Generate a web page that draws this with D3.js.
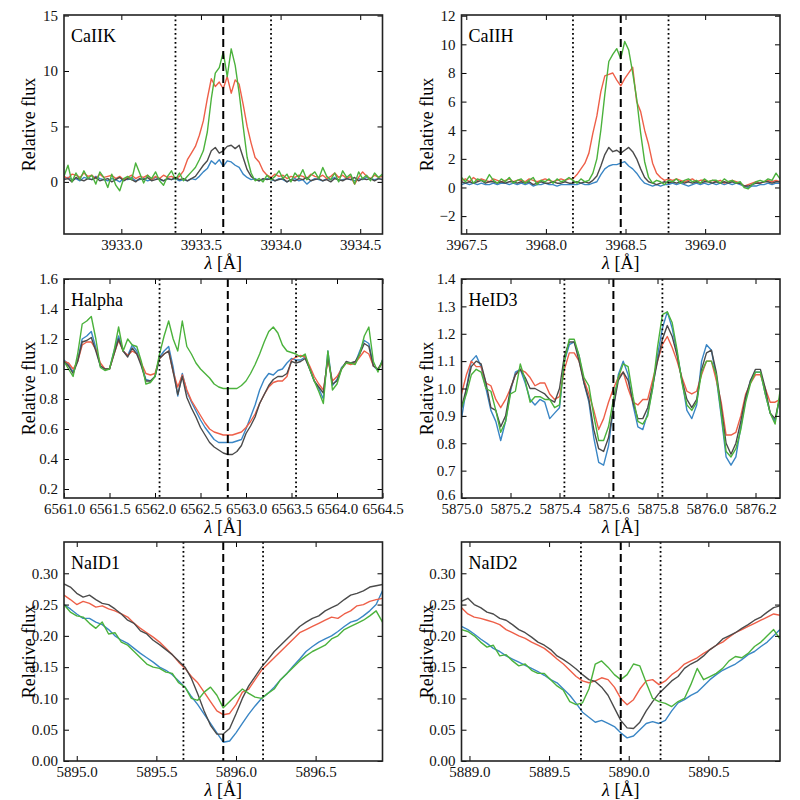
<!DOCTYPE html>
<html>
<head>
<meta charset="utf-8">
<script src="https://cdn.jsdelivr.net/npm/d3@7"></script>
<style>
  body { margin: 0; background: #fff; }
</style>
</head>
<body>
<svg id="chart"></svg>
<script>
// ---- CaII K ----
const caiikBlue = [0.3,0.4,0.2,0.3,0.1,0.4,0.3,0.2,0.5,0.3,0.2,0.1,0.3,0.2,0.0,0.3,0.2,0.4,0.1,0.2,0.3,0.1,0.2,0.4,0.2,0.1,0.3,0.2,
  0.3,0.1,0.2,0.1,0.3,0.2,0.5,0.9,1.2,1.9,1.6,2.0,1.4,1.9,1.8,1.5,1.3,0.7,0.4,0.2,0.3,0.1,0.2,0.3,0.2,
  0.1,0.3,0.2,0.0,0.2,0.3,0.1,0.2,-0.2,0.1,0.3,0.2,0.1,0.3,0.2,0.4,0.1,0.2,0.3,0.2,0.1,0.3,0.2,0.4,0.3,0.2,0.3,0.2];
const caiikRed = [0.5,0.3,0.7,0.6,0.4,0.8,0.5,0.6,0.3,0.7,0.4,0.5,0.6,0.3,0.5,0.2,0.4,0.6,0.3,0.5,0.4,0.6,0.2,0.5,0.3,0.6,0.4,0.5,
  0.3,0.5,1.0,2.0,2.6,3.2,4.2,5.5,7.5,9.3,8.6,9.0,8.4,9.5,8.0,9.2,8.8,7.0,5.0,3.5,2.2,1.8,1.0,0.6,0.4,
  0.7,0.5,0.6,0.3,0.5,0.4,0.6,0.5,0.3,0.7,0.5,0.4,0.6,0.3,0.5,0.8,0.4,0.6,0.3,0.5,-0.2,0.4,0.9,0.5,0.3,0.6,0.4,0.5];
const caiikGray = [0.2,0.3,0.0,0.4,0.2,0.1,0.3,0.2,0.4,0.1,0.2,0.3,0.0,0.2,0.4,0.1,0.3,0.2,0.0,0.3,0.2,0.4,0.1,0.2,0.3,0.1,0.3,0.2,
  0.4,0.2,0.3,0.1,0.3,0.5,1.0,1.5,1.9,2.8,3.1,2.6,2.8,3.2,3.3,3.0,3.3,2.2,1.1,0.5,0.2,0.1,0.3,0.2,0.3,
  0.1,0.2,0.3,0.0,0.2,0.1,0.3,0.2,0.4,0.1,0.2,0.3,0.1,0.2,0.0,0.3,0.2,0.1,0.3,0.2,0.4,0.1,0.3,0.2,0.3,0.1,0.3,0.2];
const caiikGreen = [0.5,1.5,0.0,0.8,0.2,1.0,0.3,0.6,-0.2,0.9,0.4,-0.5,0.7,-0.3,-0.8,0.3,0.5,0.2,1.7,0.8,-0.1,0.6,0.3,0.9,0.1,-0.3,0.5,1.0,
  0.2,0.8,0.1,0.5,0.9,1.3,2.0,2.8,4.5,7.5,9.8,10.3,11.7,9.5,12.0,10.5,8.0,5.0,2.2,0.8,0.1,0.3,0.0,0.6,0.2,
  0.5,1.0,0.3,0.7,0.0,0.8,0.4,1.1,0.2,0.6,0.9,0.3,1.3,0.5,0.2,0.8,0.0,1.0,0.4,0.7,-0.2,0.9,0.3,0.6,0.1,0.8,0.4,0.7];
const caiikXTicks = [3933.0, 3933.5, 3934.0, 3934.5];
const caiikYTicks = [0, 5, 10, 15];

// ---- CaII H ----
const caiihBlue = [0.2,0.3,0.2,0.3,0.2,0.3,0.2,0.2,0.3,0.2,0.3,0.3,0.2,0.3,0.2,0.3,0.2,0.3,0.1,0.2,0.2,0.3,0.2,0.2,0.1,0.2,0.2,0.2,
  0.2,0.2,0.3,0.2,0.2,0.3,0.4,0.9,1.3,1.5,1.6,1.6,1.7,1.8,1.5,1.3,1.0,0.6,0.3,0.2,0.1,0.2,0.1,0.2,0.2,
  0.3,0.2,0.3,0.2,0.1,0.2,0.3,0.2,0.3,0.2,0.3,0.2,0.3,0.2,0.3,0.2,0.3,0.2,0.1,0.0,0.1,0.1,0.2,0.2,0.3,0.2,0.3,0.3];
const caiihRed = [0.5,0.6,0.4,0.7,0.5,0.6,0.5,0.4,0.6,0.5,0.4,0.5,0.6,0.4,0.5,0.5,0.4,0.6,0.5,0.4,0.5,0.6,0.5,0.4,0.5,0.6,0.5,0.6,
  0.6,0.9,1.3,1.7,2.4,3.8,5.0,6.7,7.8,7.9,8.0,7.5,7.1,7.6,8.0,8.4,6.0,5.3,4.0,3.0,1.7,1.0,0.7,0.5,0.6,
  0.5,0.6,0.5,0.4,0.5,0.6,0.4,0.5,0.5,0.4,0.5,0.4,0.5,0.3,0.4,0.5,0.4,0.3,0.1,0.2,0.3,0.4,0.3,0.4,0.5,0.4,0.5,0.4];
const caiihGray = [0.4,0.3,0.4,0.3,0.4,0.5,0.3,0.4,0.4,0.3,0.4,0.3,0.4,0.4,0.3,0.4,0.3,0.4,0.2,0.3,0.4,0.3,0.3,0.4,0.3,0.3,0.4,0.3,
  0.3,0.4,0.3,0.4,0.3,0.5,0.8,1.5,2.3,2.8,2.5,2.6,2.4,2.6,2.8,2.5,2.0,1.3,0.7,0.4,0.3,0.2,0.3,0.4,0.3,
  0.4,0.3,0.4,0.3,0.4,0.3,0.4,0.3,0.4,0.4,0.3,0.4,0.3,0.4,0.3,0.4,0.3,0.3,0.1,0.1,0.2,0.3,0.3,0.4,0.4,0.3,0.4,0.4];
const caiihGreen = [0.7,0.4,0.8,0.3,0.6,0.5,0.4,0.9,0.5,0.3,0.6,0.4,0.7,0.3,0.5,0.6,0.3,0.5,0.7,0.2,0.5,0.4,0.6,0.3,0.6,0.4,0.5,0.7,
  0.5,0.3,0.6,0.4,0.5,1.0,2.0,4.0,6.5,8.8,9.3,9.7,9.0,10.2,9.6,8.0,6.2,3.8,1.8,0.7,0.3,0.5,0.4,0.2,0.5,
  0.4,0.6,0.3,0.5,0.6,0.4,0.5,0.3,0.6,0.4,0.5,0.5,0.3,0.6,0.4,0.5,0.3,0.4,0.0,-0.1,0.2,0.4,0.5,0.4,0.6,0.5,1.0,0.6];
const caiihXTicks = [3967.5, 3968.0, 3968.5, 3969.0];
const caiihYTicks = [-2, 0, 2, 4, 6, 8, 10, 12];

// ---- H alpha ----
const halphaBlue = [1.06,1.03,0.98,1.06,1.20,1.22,1.25,1.14,1.02,1.00,
  1.00,1.12,1.22,1.12,1.09,1.16,1.12,1.03,0.93,0.92,
  0.95,1.08,1.12,1.15,1.01,0.82,0.97,0.85,0.78,0.72,
  0.66,0.61,0.57,0.53,0.51,0.51,0.51,0.51,0.52,0.53,
  0.60,0.68,0.76,0.86,0.93,0.97,0.96,0.99,1.00,1.04,
  1.07,1.06,1.06,1.08,1.00,0.92,0.87,0.80,1.12,0.89,
  0.93,1.01,1.04,1.04,1.04,1.12,1.19,1.17,1.02,0.99,1.06];
const halphaRed = [1.05,1.04,1.00,1.05,1.16,1.18,1.18,1.13,1.04,1.00,
  1.00,1.10,1.19,1.12,1.09,1.12,1.10,1.04,0.97,0.96,
  0.97,1.07,1.10,1.12,0.98,0.88,0.96,0.86,0.79,0.74,
  0.69,0.64,0.60,0.58,0.57,0.56,0.56,0.56,0.57,0.58,
  0.61,0.65,0.70,0.77,0.83,0.88,0.91,0.92,0.92,0.95,
  1.06,1.08,1.09,1.08,1.02,0.95,0.90,0.86,1.06,0.92,
  0.95,1.00,1.04,1.03,1.04,1.08,1.12,1.10,1.02,1.00,1.04];
const halphaGray = [1.05,1.02,0.97,1.05,1.18,1.19,1.21,1.12,1.02,1.00,
  1.00,1.10,1.20,1.12,1.08,1.14,1.10,1.02,0.92,0.92,
  0.95,1.07,1.10,1.12,0.98,0.83,0.95,0.81,0.74,0.68,
  0.61,0.56,0.51,0.48,0.46,0.44,0.43,0.43,0.45,0.49,
  0.57,0.62,0.68,0.77,0.83,0.89,0.93,0.95,0.95,0.97,
  1.05,1.04,1.05,1.07,1.00,0.92,0.88,0.84,1.08,0.90,
  0.92,1.00,1.05,1.04,1.05,1.10,1.17,1.15,1.02,1.00,1.05];
const halphaGreen = [1.05,1.00,0.95,1.10,1.30,1.32,1.35,1.20,1.01,0.99,
  1.00,1.12,1.28,1.12,1.20,1.16,1.15,1.05,0.90,0.91,
  0.95,1.10,1.22,1.32,1.20,1.12,1.32,1.15,1.10,1.04,
  1.00,0.97,0.94,0.90,0.88,0.87,0.87,0.87,0.87,0.89,
  0.92,0.97,1.03,1.10,1.18,1.25,1.28,1.24,1.16,1.12,
  1.11,1.10,1.08,1.10,1.00,0.92,0.85,0.77,1.12,0.86,
  0.90,1.00,1.04,1.04,1.03,1.10,1.22,1.28,1.05,0.98,1.06];
const halphaXTicks = [6561.0, 6561.5, 6562.0, 6562.5, 6563.0, 6563.5, 6564.0, 6564.5];
const halphaYTicks = [0.2, 0.4, 0.6, 0.8, 1.0, 1.2, 1.4, 1.6];

// ---- He I D3 ----
const heid3Blue = [0.89,1.00,1.10,1.12,1.08,1.00,0.92,0.88,0.81,0.88,
  0.99,1.06,1.07,1.02,0.96,0.94,0.96,0.95,0.89,0.91,
  0.93,1.10,1.16,1.17,1.12,1.02,0.95,0.82,0.73,0.72,
  0.79,0.93,1.05,1.10,1.05,0.94,0.86,0.85,0.91,1.00,
  1.12,1.22,1.28,1.22,1.13,1.03,0.92,0.89,0.94,1.10,
  1.16,1.14,1.04,0.90,0.75,0.72,0.75,0.86,0.96,1.03,
  1.06,1.06,0.98,0.91,0.88,0.97];
const heid3Red = [0.98,1.05,1.10,1.08,1.08,1.02,1.01,0.96,0.93,0.96,
  1.00,1.05,1.07,1.06,1.04,1.01,1.02,1.02,0.98,0.96,
  0.97,1.07,1.13,1.13,1.10,1.03,0.98,0.92,0.85,0.89,
  0.95,1.00,1.04,1.06,1.00,0.95,0.94,0.96,0.96,1.03,
  1.10,1.16,1.19,1.15,1.10,1.04,0.99,0.98,0.99,1.05,
  1.10,1.10,1.03,0.95,0.83,0.83,0.84,0.90,0.98,1.02,
  1.05,1.05,1.00,0.95,0.95,0.96];
const heid3Gray = [0.93,1.00,1.08,1.10,1.09,1.02,0.93,0.92,0.86,0.90,
  1.00,1.05,1.07,1.04,1.00,1.00,0.99,0.98,0.96,0.95,
  1.00,1.12,1.17,1.17,1.10,1.02,0.96,0.85,0.78,0.77,
  0.82,0.93,1.03,1.06,1.03,0.95,0.89,0.89,0.93,1.01,
  1.10,1.18,1.23,1.19,1.12,1.03,0.96,0.93,0.96,1.07,
  1.13,1.14,1.06,0.93,0.80,0.76,0.80,0.88,0.97,1.03,
  1.07,1.07,1.00,0.91,0.89,0.97];
const heid3Green = [0.93,0.98,1.05,1.07,1.06,1.00,0.99,0.92,0.84,0.88,
  0.98,0.99,1.09,1.03,0.95,0.97,0.97,0.96,0.96,0.93,
  0.94,1.10,1.18,1.18,1.12,1.04,1.01,0.90,0.81,0.81,
  0.86,0.96,1.04,1.09,1.08,0.97,0.88,0.87,0.90,1.00,
  1.15,1.27,1.28,1.24,1.14,1.02,0.94,0.92,0.95,1.06,
  1.10,1.10,1.05,0.91,0.77,0.75,0.78,0.85,0.95,1.02,
  1.06,1.06,0.98,0.91,0.87,0.99];
const heid3XTicks = [5875.0, 5875.2, 5875.4, 5875.6, 5875.8, 5876.0, 5876.2];
const heid3YTicks = [0.6, 0.7, 0.8, 0.9, 1.0, 1.1, 1.2, 1.3, 1.4];

// ---- Na I D1 ----
const naid1Blue = [0.25,0.243,0.235,0.228,0.228,0.222,0.218,0.21,0.2,0.193,
  0.188,0.18,0.172,0.165,0.158,0.15,0.145,0.138,0.128,0.118,
  0.103,0.09,0.075,0.06,0.045,0.03,0.032,0.045,0.06,0.075,
  0.088,0.1,0.108,0.118,0.13,0.14,0.152,0.163,0.175,0.183,
  0.19,0.195,0.2,0.207,0.215,0.222,0.225,0.232,0.24,0.25,0.272];
const naid1Red = [0.265,0.258,0.25,0.255,0.252,0.246,0.248,0.243,0.24,0.235,
  0.23,0.22,0.212,0.205,0.198,0.19,0.18,0.17,0.158,0.148,
  0.135,0.125,0.11,0.095,0.08,0.074,0.076,0.09,0.11,0.115,
  0.13,0.145,0.155,0.165,0.175,0.185,0.195,0.205,0.21,0.215,
  0.22,0.225,0.23,0.228,0.235,0.24,0.248,0.25,0.255,0.258,0.26];
const naid1Gray = [0.283,0.278,0.268,0.262,0.265,0.258,0.252,0.25,0.243,0.235,
  0.225,0.22,0.208,0.203,0.193,0.186,0.178,0.17,0.16,0.15,
  0.132,0.107,0.08,0.057,0.043,0.043,0.052,0.075,0.1,0.12,
  0.135,0.15,0.162,0.175,0.185,0.195,0.205,0.215,0.222,0.228,
  0.232,0.24,0.245,0.25,0.258,0.265,0.268,0.272,0.278,0.28,0.282];
const naid1Green = [0.25,0.238,0.232,0.23,0.22,0.212,0.222,0.203,0.205,0.19,
  0.185,0.175,0.165,0.155,0.15,0.148,0.142,0.14,0.125,0.118,
  0.1,0.097,0.11,0.118,0.105,0.085,0.095,0.105,0.115,0.108,
  0.102,0.1,0.108,0.115,0.13,0.14,0.15,0.16,0.168,0.175,
  0.18,0.185,0.195,0.2,0.21,0.215,0.22,0.225,0.232,0.24,0.222];
const naid1XTicks = [5895.0, 5895.5, 5896.0, 5896.5];

// ---- Na I D2 ----
const naid2Blue = [0.215,0.21,0.203,0.195,0.188,0.18,0.175,0.168,0.163,0.158,
  0.153,0.148,0.143,0.137,0.13,0.125,0.115,0.105,0.092,0.078,
  0.07,0.062,0.065,0.06,0.055,0.045,0.037,0.04,0.05,0.06,
  0.063,0.06,0.065,0.08,0.093,0.098,0.105,0.11,0.12,0.13,
  0.138,0.145,0.15,0.155,0.162,0.17,0.175,0.183,0.19,0.2,0.21];
const naid2Red = [0.245,0.235,0.23,0.228,0.225,0.222,0.218,0.21,0.205,0.2,
  0.196,0.19,0.185,0.18,0.172,0.163,0.155,0.145,0.135,0.128,
  0.125,0.128,0.133,0.13,0.118,0.1,0.09,0.098,0.115,0.128,
  0.13,0.122,0.128,0.138,0.145,0.155,0.16,0.165,0.172,0.178,
  0.185,0.19,0.198,0.205,0.21,0.215,0.22,0.225,0.23,0.235,0.233];
const naid2Gray = [0.255,0.26,0.25,0.245,0.238,0.235,0.228,0.225,0.218,0.21,
  0.205,0.198,0.19,0.185,0.178,0.168,0.162,0.155,0.147,0.138,
  0.13,0.127,0.118,0.105,0.085,0.065,0.053,0.052,0.062,0.08,
  0.095,0.108,0.118,0.128,0.135,0.148,0.155,0.16,0.168,0.178,
  0.185,0.195,0.2,0.205,0.212,0.218,0.225,0.23,0.238,0.245,0.248];
const naid2Green = [0.21,0.207,0.2,0.19,0.182,0.185,0.168,0.17,0.16,0.152,
  0.155,0.145,0.14,0.14,0.13,0.12,0.113,0.095,0.09,0.093,
  0.115,0.155,0.16,0.15,0.138,0.13,0.138,0.155,0.152,0.125,
  0.1,0.095,0.092,0.087,0.095,0.1,0.122,0.148,0.13,0.135,
  0.14,0.148,0.16,0.167,0.165,0.172,0.183,0.19,0.2,0.21,0.195];
const naid2XTicks = [5889.0, 5889.5, 5890.0, 5890.5];
const naYTicks = [0.00, 0.05, 0.10, 0.15, 0.20, 0.25, 0.30];

const colors = { blue: '#3a86c5', red: '#ee5f48', gray: '#4b4b4b', green: '#4bb23c' };
const serif = '"Liberation Serif", "DejaVu Serif", serif';

const panels = [
  { name: 'CaIIK', col: 0, row: 0, start: 3932.64, step: 0.025, xDomain: [3932.64, 3934.64], yDomain: [-4.7, 15.05],
    xTicks: caiikXTicks, yTicks: caiikYTicks, yFormat: 'd', centre: 3933.64, halfWidth: 0.3,
    blue: caiikBlue, red: caiikRed, gray: caiikGray, green: caiikGreen },
  { name: 'CaIIH', col: 1, row: 0, start: 3967.47, step: 0.025, xDomain: [3967.47, 3969.47], yDomain: [-3.25, 12.05],
    xTicks: caiihXTicks, yTicks: caiihYTicks, yFormat: 'd', centre: 3968.47, halfWidth: 0.3,
    blue: caiihBlue, red: caiihRed, gray: caiihGray, green: caiihGreen },
  { name: 'Halpha', col: 0, row: 1, start: 6561.0, step: 0.05, xDomain: [6561.0, 6564.5], yDomain: [0.14, 1.6],
    xTicks: halphaXTicks, yTicks: halphaYTicks, yFormat: '.1f', centre: 6562.8, halfWidth: 0.75,
    blue: halphaBlue, red: halphaRed, gray: halphaGray, green: halphaGreen },
  { name: 'HeID3', col: 1, row: 1, start: 5875.0, step: 0.02, xDomain: [5875.0, 5876.3], yDomain: [0.6, 1.4],
    xTicks: heid3XTicks, yTicks: heid3YTicks, yFormat: '.1f', centre: 5875.62, halfWidth: 0.2,
    blue: heid3Blue, red: heid3Red, gray: heid3Gray, green: heid3Green },
  { name: 'NaID1', col: 0, row: 2, start: 5894.92, step: 0.04, xDomain: [5894.92, 5896.92], yDomain: [0, 0.35],
    xTicks: naid1XTicks, yTicks: naYTicks, yFormat: '.2f', centre: 5895.92, halfWidth: 0.25,
    blue: naid1Blue, red: naid1Red, gray: naid1Gray, green: naid1Green },
  { name: 'NaID2', col: 1, row: 2, start: 5888.95, step: 0.04, xDomain: [5888.95, 5890.95], yDomain: [0, 0.35],
    xTicks: naid2XTicks, yTicks: naYTicks, yFormat: '.2f', centre: 5889.95, halfWidth: 0.25,
    blue: naid2Blue, red: naid2Red, gray: naid2Gray, green: naid2Green },
];

const layout = {
  width: 800,
  height: 800,
  colLeft: [64, 461.5],
  rowTop: [15, 279, 542],
  panelWidth: 318.5,
  panelHeight: 219,
};

const svg = d3.select('#chart')
  .attr('width', layout.width)
  .attr('height', layout.height)
  .attr('viewBox', [0, 0, layout.width, layout.height])
  .style('font-family', serif);

svg.append('rect').attr('width', layout.width).attr('height', layout.height).attr('fill', '#fff');

function drawPanel(p) {
  const w = layout.panelWidth;
  const h = layout.panelHeight;
  const g = svg.append('g')
    .attr('transform', `translate(${layout.colLeft[p.col]} ${layout.rowTop[p.row]})`);

  const xScale = d3.scaleLinear().domain(p.xDomain).range([0, w]);
  const yScale = d3.scaleLinear().domain(p.yDomain).range([h, 0]);

  const clipId = `clip-${p.name}`;
  g.append('clipPath').attr('id', clipId)
    .append('rect').attr('width', w).attr('height', h);

  const lambda = d3.range(p.blue.length).map(i => p.start + i * p.step);
  const line = d3.line()
    .x((d, i) => xScale(lambda[i]))
    .y(d => yScale(d));

  const plot = g.append('g').attr('clip-path', `url(#${clipId})`);

  ['blue', 'red', 'gray', 'green'].forEach(key => {
    plot.append('path')
      .attr('d', line(p[key]))
      .attr('fill', 'none')
      .attr('stroke', colors[key])
      .attr('stroke-width', 1.4)
      .attr('stroke-linejoin', 'round');
  });

  // line centre and integration window
  plot.append('line')
    .attr('x1', xScale(p.centre)).attr('x2', xScale(p.centre))
    .attr('y1', 0).attr('y2', h)
    .attr('stroke', '#000')
    .attr('stroke-width', 2)
    .attr('stroke-dasharray', '8 4');

  [p.centre - p.halfWidth, p.centre + p.halfWidth].forEach(v => {
    plot.append('line')
      .attr('x1', xScale(v)).attr('x2', xScale(v))
      .attr('y1', 0).attr('y2', h)
      .attr('stroke', '#000')
      .attr('stroke-width', 1.8)
      .attr('stroke-dasharray', '1.8 2.7');
  });

  // axes, ticks pointing inwards on all four sides
  const fmtX = d3.format('.1f');
  const fmtY = d3.format(p.yFormat);

  const bottom = g.append('g')
    .attr('transform', `translate(0 ${h})`)
    .call(d3.axisBottom(xScale).tickValues(p.xTicks).tickSize(-5).tickPadding(5.5).tickFormat(fmtX));
  g.append('g')
    .call(d3.axisTop(xScale).tickValues(p.xTicks).tickSize(-5).tickFormat(''));
  const left = g.append('g')
    .call(d3.axisLeft(yScale).tickValues(p.yTicks).tickSize(-5).tickPadding(6).tickFormat(fmtY));
  g.append('g')
    .attr('transform', `translate(${w} 0)`)
    .call(d3.axisRight(yScale).tickValues(p.yTicks).tickSize(-5).tickFormat(''));

  g.selectAll('.domain').remove();
  g.selectAll('.tick line').attr('stroke', '#000').attr('stroke-width', 1);
  g.selectAll('g').attr('font-family', serif).attr('font-size', 15);
  bottom.selectAll('text').attr('fill', '#111');
  left.selectAll('text').attr('fill', '#111');

  // lowest y label sits in the corner; lift it a little when an x label shares that corner
  if (xScale(p.xTicks[0]) < 2) {
    left.selectAll('.tick text')
      .filter(d => d === p.yDomain[0])
      .attr('dy', '0.1em');
  }

  g.append('rect')
    .attr('width', w)
    .attr('height', h)
    .attr('fill', 'none')
    .attr('stroke', '#222')
    .attr('stroke-width', 1.6);

  g.append('text')
    .attr('x', 7)
    .attr('y', 27)
    .attr('font-family', serif)
    .attr('font-size', 18)
    .text(p.name);

  const xLabel = g.append('text')
    .attr('x', w / 2)
    .attr('y', h + 35)
    .attr('text-anchor', 'middle')
    .attr('font-family', serif)
    .attr('font-size', 18);
  xLabel.append('tspan').attr('font-style', 'italic').text('λ');
  xLabel.append('tspan').text(' [Å]');

  g.append('text')
    .attr('transform', `translate(-35 ${h / 2}) rotate(-90)`)
    .attr('dy', '0.35em')
    .attr('text-anchor', 'middle')
    .attr('font-family', serif)
    .attr('font-size', 18)
    .text('Relative flux');
}

panels.forEach(drawPanel);
</script>
</body>
</html>
